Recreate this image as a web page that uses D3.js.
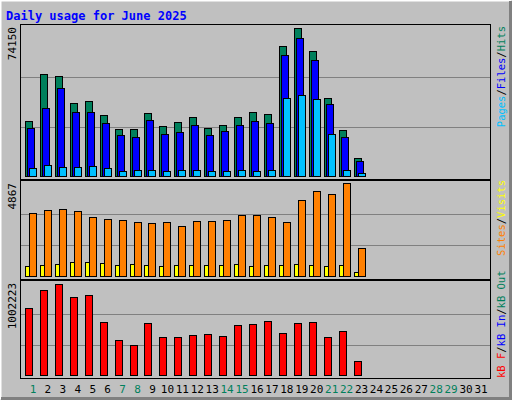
<!DOCTYPE html>
<html><head><meta charset="utf-8">
<script src="https://cdn.jsdelivr.net/npm/d3@7"></script>
<style>body{margin:0;background:#fff}svg{display:block}</style>
</head><body><svg id="c" width="512" height="400"></svg>
<script>
const days = d3.range(1,32);
const hits  = [27345,51000,49990,36404,37411,30365,23319,23319,31371,24828,26842,29358,23822,25332,29358,31874,30868,65091,74150,62575,38920,22815,9227];
const files = [23822,33888,43953,31874,31874,26338,20299,19292,27848,20802,21809,25332,20299,22312,25332,27345,26338,60561,69117,58045,35900,19292,7717];
const pages = [4194,5704,4697,4697,5200,4194,2684,3187,3187,2684,3187,3187,2684,2684,3187,2684,3187,38920,40430,38417,20802,3187,1342];
const visits = [529,582,635,741,741,688,582,635,582,529,582,582,582,582,635,529,582,582,635,582,529,582,212];
const sites  = [3280,3438,3492,3386,3068,2963,2910,2804,2751,2804,2592,2857,2857,2910,3174,3174,3068,2804,3968,4444,4285,4867,1481];
const kbytes = [737900,936200,1002223,859100,881100,583700,385500,330400,572700,418500,418500,440500,451600,429500,550700,561700,594700,462600,572700,583700,418500,484600,154200];
const weekend = [1,7,8,14,15,21,22,28,29];
const C = {hits:"#00805C",files:"#0000FF",pages:"#00C0FF",visits:"#FFFF00",sites:"#FF8000",kb:"#FF0000"};

const svg = d3.select("#c");
svg.append("rect").attr("width",512).attr("height",400).attr("fill","#C0C0C0");
// 3D border
svg.append("path").attr("d","M0.5,399.5V0.5H511.5").attr("stroke","#fff").attr("stroke-width",2).attr("fill","none");
svg.append("path").attr("d","M1,398.5H510.5V1").attr("stroke","#808080").attr("stroke-width",3).attr("fill","none");
svg.append("text").attr("x",6).attr("y",20).attr("fill","#0000FF").attr("font-family","DejaVu Sans Mono")
  .attr("font-weight","bold").attr("font-size",12).text("Daily usage for June 2025");

const x = d3.scaleLinear().domain([1,31]).range([33,481]);
const mono = "DejaVu Sans Mono";

const panels = [
  {top:24,bot:179,y0:176,y1:28,max:74150,series:[["hits",hits,-8,7],["files",files,-6,7],["pages",pages,-4,7]]},
  {top:180,bot:279,y0:276,y1:183,max:4867,series:[["visits",visits,-8,4],["sites",sites,-4,7]]},
  {top:280,bot:378,y0:375,y1:284,max:1002223,series:[["kb",kbytes,-8,7]]}
];
panels.forEach(p=>{
  const y = d3.scaleLinear().domain([0,p.max]).range([p.y0,p.y1]);
  const yg = d3.scaleLinear().domain([0,3]).range([p.y0,p.y1]);
  svg.append("rect").attr("x",20.5).attr("y",p.top+0.5).attr("width",470).attr("height",p.bot-p.top)
    .attr("fill","#C0C0C0").attr("stroke","#000");
  [1,2].forEach(k=>svg.append("line").attr("x1",21).attr("x2",490).attr("y1",Math.round(yg(k))+0.5).attr("y2",Math.round(yg(k))+0.5).attr("stroke","#808080"));
  svg.append("text").attr("transform",`translate(16,${p.top+3}) rotate(-90)`).attr("text-anchor","end")
    .attr("font-family",mono).attr("font-size",11).attr("fill","#000").text(p.max);
  p.series.forEach(([k,vals,off,w])=>{
    svg.append("g").selectAll("rect").data(vals).join("rect")
      .attr("x",(d,i)=>Math.round(x(i+1))+off+0.5).attr("width",w)
      .attr("y",d=>Math.round(y(d))+0.5).attr("height",d=>Math.max(0,Math.round(p.y0-y(d))))
      .attr("fill",C[k]).attr("stroke","#000");
  });
});

svg.append("g").selectAll("text").data(days).join("text")
  .attr("x",d=>x(d)).attr("y",393).attr("text-anchor","middle").attr("font-family",mono).attr("font-size",11)
  .attr("fill",d=>weekend.includes(d)?"#00805C":"#000").text(d=>d);

function legend(yPos, anchor, parts){
  const t = svg.append("text").attr("transform",`translate(505,${yPos}) rotate(-90)`).attr("text-anchor",anchor)
    .attr("font-family",mono).attr("font-size",10.5);
  parts.forEach(([s,c])=>t.append("tspan").attr("fill",c).text(s));
}
legend(26,"end",[["Pages",C.pages],["/","#000"],["Files",C.files],["/","#000"],["Hits",C.hits]]);
legend(180,"end",[["Sites",C.sites],["/","#000"],["Visits",C.visits]]);
legend(378,"start",[["kB F",C.kb],["/","#000"],["kB In",C.files],["/","#000"],["kB Out",C.hits]]);
</script></body></html>
